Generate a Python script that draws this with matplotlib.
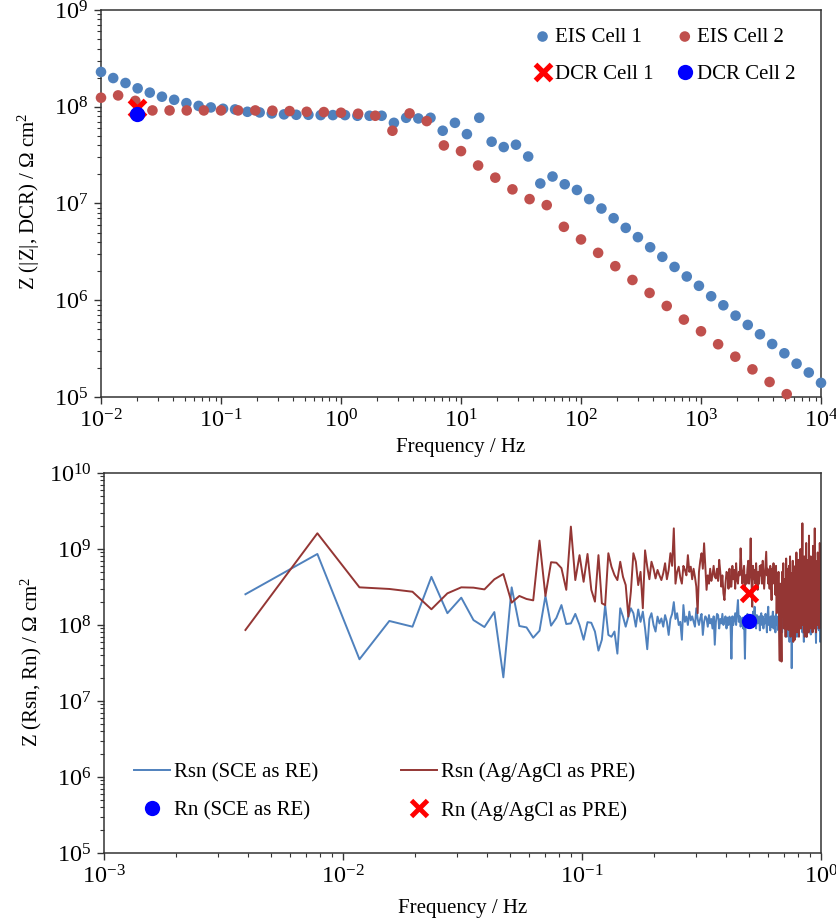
import numpy as np
import matplotlib
matplotlib.use("Agg")
import matplotlib.pyplot as plt
from matplotlib.ticker import LogLocator, NullFormatter

plt.rcParams['font.family'] = ['Liberation Serif', 'DejaVu Serif']
plt.rcParams['mathtext.fontset'] = 'custom'
plt.rcParams['mathtext.rm'] = 'Liberation Serif'
plt.rcParams['mathtext.it'] = 'Liberation Serif:italic'
plt.rcParams['mathtext.bf'] = 'Liberation Serif:bold'
plt.rcParams['axes.unicode_minus'] = False

# ---------------- Top panel data (EIS / DCR) ----------------
freq_eis1 = [0.01, 0.01264, 0.0160, 0.0202, 0.0255, 0.0322, 0.0407, 0.0515, 0.0651, 0.0823,
             0.104, 0.131, 0.166, 0.210, 0.265, 0.335, 0.424, 0.535, 0.677, 0.855,
             1.08, 1.37, 1.73, 2.18, 2.76, 3.49, 4.41, 5.57, 7.04, 8.90,
             11.2, 14.2, 18.0, 22.7, 28.7, 36.3, 45.8, 57.9, 73.2, 92.5,
             117, 148, 187, 236, 298, 377, 476, 602, 761, 961,
             1215, 1535, 1941, 2453, 3100, 3918, 4952, 6258, 7909, 10000]
z_eis1 = [2.29e8, 1.98e8, 1.76e8, 1.55e8, 1.40e8, 1.27e8, 1.18e8, 1.09e8, 1.02e8, 9.84e7,
          9.53e7, 9.38e7, 8.87e7, 8.73e7, 8.53e7, 8.34e7, 8.26e7, 8.26e7, 8.20e7, 8.20e7,
          8.20e7, 8.07e7, 8.07e7, 8.07e7, 6.82e7, 7.69e7, 7.57e7, 7.69e7, 5.65e7, 6.82e7,
          5.21e7, 7.69e7, 4.35e7, 3.83e7, 4.05e7, 3.06e7, 1.61e7, 1.90e7, 1.58e7, 1.38e7,
          1.11e7, 8.87e6, 7.05e6, 5.60e6, 4.49e6, 3.53e6, 2.81e6, 2.21e6, 1.76e6, 1.41e6,
          1.10e6, 8.87e5, 6.93e5, 5.56e5, 4.45e5, 3.53e5, 2.83e5, 2.21e5, 1.79e5, 1.40e5]

freq_eis2 = [0.01, 0.01389, 0.01931, 0.02683, 0.03728, 0.0518, 0.07197, 0.1, 0.1389, 0.1931,
             0.2683, 0.3728, 0.518, 0.7197, 1.0, 1.389, 1.931, 2.683, 3.728, 5.18,
             7.197, 10.0, 13.89, 19.31, 26.83, 37.28, 51.8, 71.97, 100, 138.9,
             193.1, 268.3, 372.8, 518, 719.7, 1000, 1389, 1931, 2683, 3728, 5180]
z_eis2 = [1.24e8, 1.31e8, 1.15e8, 9.16e7, 9.16e7, 9.16e7, 9.16e7, 9.16e7, 9.16e7, 9.16e7,
          9.10e7, 9.02e7, 8.87e7, 8.81e7, 8.67e7, 8.47e7, 8.07e7, 5.65e7, 8.53e7, 7.11e7,
          3.98e7, 3.48e7, 2.47e7, 1.85e7, 1.40e7, 1.11e7, 9.62e6, 5.74e6, 4.25e6, 3.09e6,
          2.25e6, 1.62e6, 1.19e6, 8.73e5, 6.31e5, 4.78e5, 3.51e5, 2.61e5, 1.93e5, 1.43e5, 1.07e5]

dcr_freq = [0.02]
dcr_cell1 = [9.8e7]
dcr_cell2 = [8.5e7]

# ---------------- Bottom panel data (noise resistance) ----------------
f_step = 1.0 / 256.0
freq_noise = f_step * np.arange(1, 257)
# values in units of 1e8 Ohm cm2
rsn_sce = [2.54, 8.6, 0.354, 1.13, 0.95, 4.3, 1.43, 2.29, 1.16, 0.94,
           1.48, 0.205, 3.13, 0.97, 0.93, 0.68, 0.84, 2.41, 0.98, 1.24,
           1.83, 1.03, 1.05, 1.40, 1.0, 0.64, 1.09, 1.07, 0.82, 0.46,
           0.64, 1.83, 0.74, 0.70, 0.82, 0.42, 1.66, 1.29, 0.95, 1.29,
           1.66, 1.43, 0.95, 1.6, 1.1, 1.5, 0.9, 0.48, 1.2, 1.43,
           1.0, 0.82, 1.29, 1.05, 1.22, 0.95, 1.35, 1.1, 0.74, 1.2,
           1.4, 2.0, 1.2, 1.43, 1.0, 1.1, 0.64, 1.83, 1.1, 1.29,
           1.0, 1.5, 1.15, 1.3, 1.11, 0.95, 1.66, 1.2, 1.0, 1.22,
           1.4, 0.74, 1.1, 1.3, 1.22, 0.95, 1.35, 1.05, 1.2, 0.9,
           1.3, 0.55, 1.1, 1.4, 1.35, 0.9, 1.2, 1.05, 1.4, 1.0,
           1.16, 1.3, 0.9, 1.25, 1.0, 1.29, 1.1, 0.36, 1.3, 1.0,
           1.2, 1.43, 1.0, 1.5, 2.13, 1.1, 1.3, 0.95, 1.11, 1.25,
           0.9, 1.2, 0.36, 1.3, 1.0, 1.4, 1.16, 1.05, 1.35, 0.95,
           1.29, 1.1, 1.5, 1.0, 1.74, 1.2, 0.9, 1.35, 1.05, 1.16,
           1.3, 0.85, 1.25, 1.43, 1.0, 1.3, 0.9, 1.2, 1.05, 1.4,
           1.1, 0.8, 1.35, 1.74, 1.0, 1.25, 0.85, 1.3, 0.95, 1.2,
           1.5, 0.9, 1.3, 1.11, 0.8, 1.4, 1.0, 1.25, 0.86, 1.3,
           1.1, 1.6, 0.9, 1.3, 1.74, 0.8, 1.5, 1.0, 2.2, 1.1,
           3.5, 1.0, 1.4, 0.7, 1.6, 1.1, 0.86, 1.8, 0.6, 1.3,
           1.0, 1.7, 0.27, 1.2, 1.5, 0.8, 2.0, 1.0, 1.43, 0.9,
           1.6, 1.1, 0.7, 1.8, 1.05, 1.3, 0.8, 2.2, 1.0, 1.5,
           0.9, 3.2, 1.2, 0.8, 1.6, 1.1, 0.6, 1.4, 0.82, 1.8,
           1.0, 1.5, 0.7, 2.0, 1.1, 2.9, 0.9, 1.4, 0.8, 1.6,
           1.2, 0.75, 1.5, 1.16, 1.9, 0.9, 1.3, 3.2, 1.0, 1.4,
           0.95, 1.6, 1.0, 0.58, 1.5, 1.1, 2.0, 0.9, 1.16, 1.4,
           0.85, 1.7, 1.2, 0.6, 1.5, 1.29]
rsn_agcl = [0.86, 16.1, 3.13, 2.98, 2.74, 1.61, 2.61, 3.13, 3.1, 2.94,
            3.99, 4.69, 1.97, 2.41, 2.2, 2.11, 12.9, 2.41, 6.7, 6.6,
            5.6, 2.9, 19.7, 3.9, 8.3, 3.7, 8.6, 2.9, 2.03, 8.3,
            1.93, 1.83, 8.8, 5.85, 4.55, 3.9, 6.8, 4.3, 3.36, 1.29,
            2.75, 8.8, 6.8, 3.35, 5.0, 1.66, 9.6, 5.85, 4.0, 6.8,
            5.5, 4.1, 5.3, 4.5, 3.9, 4.8, 6.5, 4.0, 5.3, 8.8,
            6.0, 18.7, 3.5, 5.0, 5.85, 4.2, 3.5, 6.0, 5.3, 4.5,
            8.3, 5.0, 5.85, 4.0, 5.5, 4.3, 3.2, 1.43, 5.0, 7.0,
            8.8, 5.5, 11.9, 6.0, 2.9, 4.5, 3.5, 5.5, 3.8, 4.55,
            6.0, 4.3, 4.1, 5.5, 3.8, 7.2, 5.0, 3.2, 4.5, 2.6,
            2.13, 3.5, 5.0, 4.8, 3.0, 5.5, 3.2, 3.2, 6.0, 4.0,
            5.3, 3.0, 6.5, 4.0, 3.5, 5.0, 4.5, 10.2, 5.5, 3.5,
            4.8, 6.0, 3.0, 4.5, 3.5, 5.5, 7.0, 3.5, 5.0, 13.8,
            4.0, 1.74, 6.0, 4.0, 5.3, 3.5, 6.5, 4.0, 2.9, 5.0,
            3.5, 6.0, 4.5, 6.2, 3.5, 7.0, 4.5, 3.0, 4.3, 6.0,
            9.2, 4.5, 5.5, 3.5, 5.0, 3.0, 6.0, 4.0, 2.13, 5.5,
            3.5, 6.5, 4.0, 5.3, 2.5, 6.0, 1.43, 4.5, 2.0, 5.0,
            0.8, 0.34, 3.5, 1.2, 0.33, 5.0, 1.5, 6.5, 0.9, 4.0,
            3.5, 0.7, 7.5, 1.5, 5.5, 0.9, 0.86, 6.0, 1.2, 8.0,
            0.7, 4.5, 4.8, 1.0, 7.0, 0.6, 3.5, 1.3, 0.64, 6.0,
            1.0, 9.0, 0.8, 4.0, 1.5, 7.2, 0.7, 5.5, 1.2, 10.0,
            0.9, 6.0, 2.0, 21.8, 1.0, 5.0, 0.8, 8.0, 0.70, 4.5,
            1.5, 12.0, 0.7, 6.0, 1.2, 7.2, 0.8, 15.0, 1.0, 5.0,
            0.9, 8.0, 1.5, 1.05, 6.0, 0.8, 11.0, 1.3, 5.0, 0.9,
            18.7, 1.5, 7.0, 0.8, 1.29, 6.5, 1.0, 9.0, 4.8, 1.2,
            7.0, 0.9, 12.0, 1.5, 5.0, 6.5]
unit = 1e8
rn_freq = [0.5]
rn_sce = [1.14e8]
rn_agcl = [2.66e8]

# ---------------- Styles ----------------
c_eis1 = '#4f81bd'
c_eis2 = '#c0504d'
c_sce = '#4f81bd'
c_agcl = '#943634'
spine_c = '#333333'
tick_fs = 17.5
lab_fs = 15
leg_fs = 15

fig = plt.figure(figsize=(8.37, 9.22), dpi=100)
ax1 = fig.add_axes([101/837, 1-397/922, 720/837, 387/922])
ax2 = fig.add_axes([104/837, 1-853/922, 717/837, 380/922])


def style_axis(ax):
    ax.set_xscale('log')
    ax.set_yscale('log')
    for s in ax.spines.values():
        s.set_color(spine_c)
        s.set_linewidth(1.1)
    ax.tick_params(which='both', direction='out', top=False, right=False,
                   colors=spine_c, labelcolor='black', labelsize=tick_fs, pad=4)
    ax.tick_params(which='major', length=5, width=1.0)
    ax.tick_params(which='minor', length=3, width=0.8)
    ax.xaxis.set_major_locator(LogLocator(base=10, numticks=20))
    ax.xaxis.set_minor_locator(LogLocator(base=10, subs=np.arange(2, 10), numticks=50))
    ax.yaxis.set_major_locator(LogLocator(base=10, numticks=20))
    ax.yaxis.set_minor_locator(LogLocator(base=10, subs=np.arange(2, 10), numticks=50))
    ax.xaxis.set_minor_formatter(NullFormatter())
    ax.yaxis.set_minor_formatter(NullFormatter())


# ----- Top panel -----
style_axis(ax1)
h_e1 = ax1.scatter(freq_eis1, z_eis1, s=58, color=c_eis1, edgecolors='none', clip_on=False, zorder=3, label='EIS Cell 1')
h_e2 = ax1.scatter(freq_eis2, z_eis2, s=58, color=c_eis2, edgecolors='none', clip_on=False, zorder=3, label='EIS Cell 2')
h_d1, = ax1.plot(dcr_freq, dcr_cell1, linestyle='none', marker='x', markersize=12, mew=3.8, color='#ff0000', zorder=4, label='DCR Cell 1')
h_d2, = ax1.plot(dcr_freq, dcr_cell2, linestyle='none', marker='o', markersize=11, color='#0000ff', mec='none', zorder=5, label='DCR Cell 2')
ax1.set_xlim(1e-2, 1e4)
ax1.set_ylim(1e5, 1e9)
ax1.set_xlabel('Frequency / Hz', fontsize=lab_fs)
ax1.set_ylabel(r'Z (|Z|, DCR) / Ω cm$^2$', fontsize=lab_fs)
ax1.xaxis.set_label_coords(0.5, -0.106)
ax1.yaxis.set_label_coords(-0.082, 0.505)
ax1.legend([h_e1, h_d1, h_e2, h_d2], ['EIS Cell 1', 'DCR Cell 1', 'EIS Cell 2', 'DCR Cell 2'],
           ncol=2, loc='upper right', bbox_to_anchor=(0.965, 0.955), frameon=False,
           fontsize=leg_fs, handlelength=0.9, handletextpad=0.15, columnspacing=1.05,
           labelspacing=0.85, borderpad=0, borderaxespad=0, markerscale=1.0, scatterpoints=1)

# ----- Bottom panel -----
style_axis(ax2)
h_s, = ax2.plot(freq_noise, np.array(rsn_sce) * unit, color=c_sce, lw=1.4, label='Rsn (SCE as RE)')
h_a, = ax2.plot(freq_noise, np.array(rsn_agcl) * unit, color=c_agcl, lw=1.4, label='Rsn (Ag/AgCl as PRE)')
h_rs, = ax2.plot(rn_freq, rn_sce, linestyle='none', marker='o', markersize=11, color='#0000ff', mec='none', zorder=5, label='Rn (SCE as RE)')
h_ra, = ax2.plot(rn_freq, rn_agcl, linestyle='none', marker='x', markersize=11, mew=3.5, color='#ff0000', zorder=5, label='Rn (Ag/AgCl as PRE)')
ax2.set_xlim(1e-3, 1)
ax2.set_ylim(1e5, 1e10)
ax2.set_xlabel('Frequency / Hz', fontsize=lab_fs)
ax2.set_ylabel(r'Z (Rsn, Rn) / Ω cm$^2$', fontsize=lab_fs)
ax2.xaxis.set_label_coords(0.5, -0.12)
ax2.yaxis.set_label_coords(-0.084, 0.503)
ax2.legend([h_s, h_rs, h_a, h_ra], ['Rsn (SCE as RE)', 'Rn (SCE as RE)', 'Rsn (Ag/AgCl as PRE)', 'Rn (Ag/AgCl as PRE)'],
           ncol=2, loc='lower left', bbox_to_anchor=(0.042, 0.085), frameon=False,
           fontsize=leg_fs, handlelength=1.7, handletextpad=0.2, columnspacing=4.0,
           labelspacing=0.9, borderpad=0, borderaxespad=0)

fig.savefig('out.png', dpi=100)
